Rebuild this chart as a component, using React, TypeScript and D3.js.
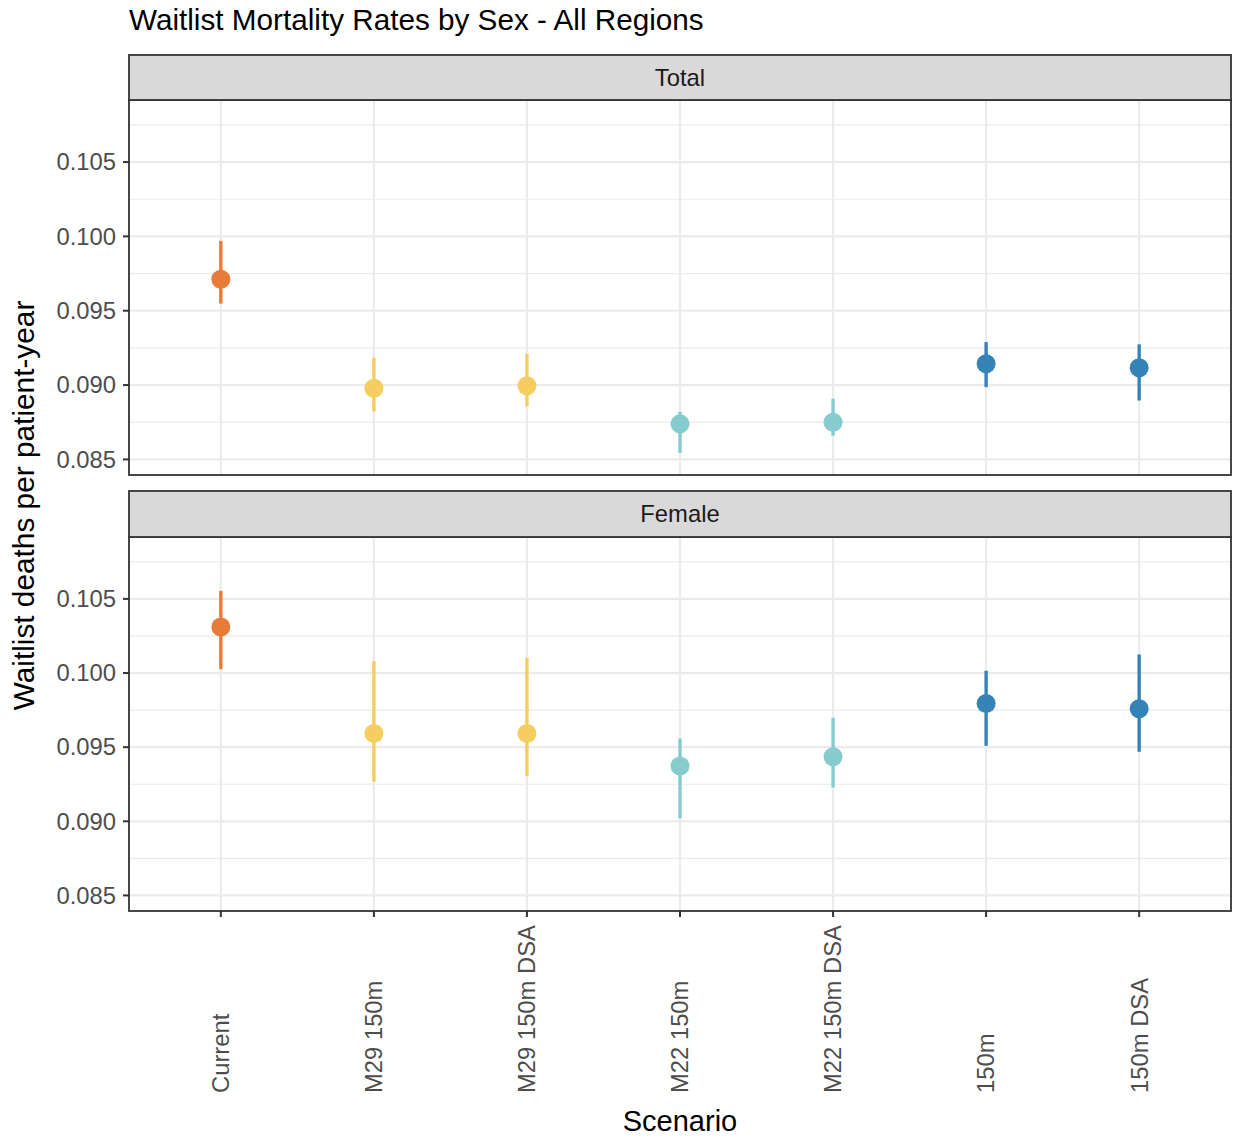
import React from "react";
import * as d3 from "d3";

const scenarios = ["Current", "M29 150m", "M29 150m DSA", "M22 150m", "M22 150m DSA", "150m", "150m DSA"];
const panels = ["Total", "Female"];
const scenarioColors = ["#E97B39", "#F6CD61", "#F6CD61", "#86CBCE", "#86CBCE", "#3583B7", "#3583B7"];

const totalMean = [0.09712, 0.08979, 0.08995, 0.08739, 0.0875, 0.09143, 0.09117];
const totalLow = [0.09548, 0.08822, 0.08856, 0.08544, 0.0866, 0.08986, 0.08896];
const totalHigh = [0.0997, 0.09184, 0.09211, 0.0882, 0.08908, 0.09289, 0.09274];

const femaleMean = [0.10311, 0.09592, 0.09592, 0.09373, 0.09435, 0.09795, 0.09759];
const femaleLow = [0.10026, 0.09267, 0.09305, 0.0902, 0.09228, 0.09509, 0.09469];
const femaleHigh = [0.10554, 0.1008, 0.10104, 0.09559, 0.09698, 0.10015, 0.10125];

const yTicks = [0.085, 0.09, 0.095, 0.1, 0.105];
const yMinor = [0.0875, 0.0925, 0.0975, 0.1025, 0.1075];

const FONT = "'Liberation Sans', Arial, Helvetica, sans-serif";

export default function App() {
  const W = 1235, H = 1139;
  const left = 129, right = 1231;
  const layouts = [
    { stripTop: 55, top: 100, bottom: 475 },
    { stripTop: 491, top: 537, bottom: 911 },
  ];
  const data = [
    { mean: totalMean, low: totalLow, high: totalHigh },
    { mean: femaleMean, low: femaleLow, high: femaleHigh },
  ];
  const x = d3.scalePoint<string>().domain(scenarios).range([left, right]).padding(0.6);
  const domain: [number, number] = [0.08395, 0.109175];
  const tickFs = 23.8;

  return (
    <svg width={W} height={H} style={{ position: "absolute", left: 0, top: 0, background: "#fff" }} fontFamily={FONT}>
      <rect x={0} y={0} width={W} height={H} fill="#fff" />
      <text x={129} y={30} fontSize={29.7} fill="#000">Waitlist Mortality Rates by Sex - All Regions</text>
      {panels.map((p, pi) => {
        const L = layouts[pi];
        const y = d3.scaleLinear().domain(domain).range([L.bottom, L.top]);
        const d = data[pi];
        return (
          <g key={p}>
            <rect x={left} y={L.top} width={right - left} height={L.bottom - L.top} fill="#fff" />
            {yMinor.map((v) => (
              <line key={"mn" + v} x1={left} x2={right} y1={y(v)} y2={y(v)} stroke="#EBEBEB" strokeWidth={1.2} />
            ))}
            {yTicks.map((v) => (
              <line key={"mj" + v} x1={left} x2={right} y1={y(v)} y2={y(v)} stroke="#EBEBEB" strokeWidth={2.2} />
            ))}
            {scenarios.map((s) => (
              <line key={"vx" + s} x1={x(s)} x2={x(s)} y1={L.top} y2={L.bottom} stroke="#EBEBEB" strokeWidth={2.2} />
            ))}
            {scenarios.map((s, i) => (
              <g key={"pt" + s}>
                <line x1={x(s)} x2={x(s)} y1={y(d.low[i])} y2={y(d.high[i])} stroke={scenarioColors[i]} strokeWidth={3.4} />
                <circle cx={x(s)} cy={y(d.mean[i])} r={9.5} fill={scenarioColors[i]} />
              </g>
            ))}
            <rect x={left} y={L.top} width={right - left} height={L.bottom - L.top} fill="none" stroke="#333" strokeWidth={1.8} />
            <rect x={left} y={L.stripTop} width={right - left} height={L.top - L.stripTop} fill="#D9D9D9" stroke="#333" strokeWidth={1.8} />
            <text x={(left + right) / 2} y={(L.stripTop + L.top) / 2} dy="0.35em" textAnchor="middle" fontSize={tickFs} fill="#1A1A1A">{p}</text>
            {yTicks.map((v) => (
              <g key={"yt" + v}>
                <line x1={left - 6} x2={left} y1={y(v)} y2={y(v)} stroke="#333" strokeWidth={2} />
                <text x={left - 13} y={y(v)} dy="0.35em" textAnchor="end" fontSize={tickFs} fill="#4D4D4D">{d3.format(".3f")(v)}</text>
              </g>
            ))}
            {pi === 1 && scenarios.map((s) => (
              <g key={"xt" + s}>
                <line x1={x(s)} x2={x(s)} y1={L.bottom} y2={L.bottom + 6} stroke="#333" strokeWidth={2} />
                <text transform={`translate(${x(s)},1093) rotate(-90)`} dy="0.35em" textAnchor="start" fontSize={tickFs} fill="#4D4D4D">{s}</text>
              </g>
            ))}
          </g>
        );
      })}
      <text x={(left + right) / 2} y={1131} textAnchor="middle" fontSize={29} fill="#000">Scenario</text>
      <text transform={`translate(34,${(100 + 911) / 2}) rotate(-90)`} textAnchor="middle" fontSize={29.8} fill="#000">Waitlist deaths per patient-year</text>
    </svg>
  );
}
